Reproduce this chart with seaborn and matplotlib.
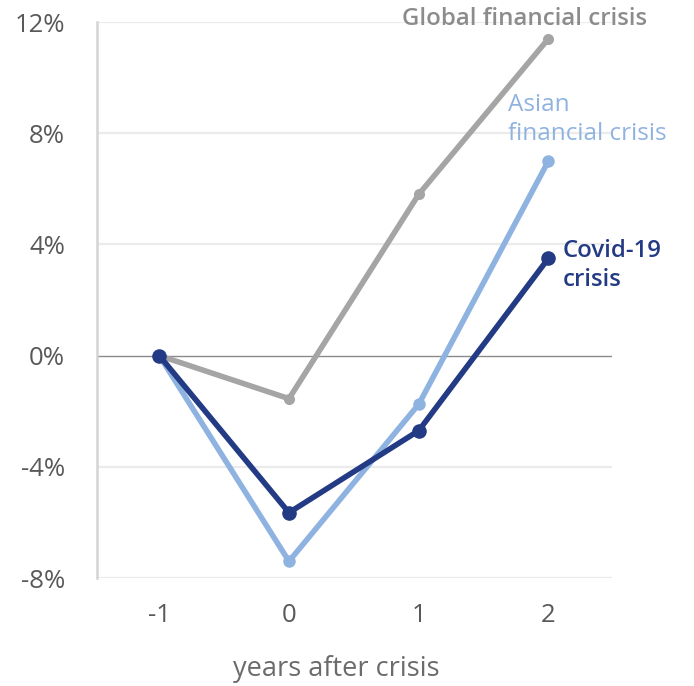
import matplotlib
matplotlib.use("Agg")
import matplotlib.pyplot as plt
import seaborn as sns
import pandas as pd
from matplotlib.ticker import FuncFormatter

years = [-1, 0, 1, 2]
global_fc = [0.0, -1.55, 5.8, 11.4]
asian_fc = [0.0, -7.4, -1.75, 7.0]
covid = [0.0, -5.65, -2.7, 3.5]
y_ticks = [-8, -4, 0, 4, 8, 12]

series_names = ["Global financial crisis", "Asian\nfinancial crisis", "Covid-19\ncrisis"]
colors = ["#a5a5a5", "#8fb3e0", "#233a84"]

df = pd.concat([
    pd.DataFrame({"year": years, "value": global_fc, "series": series_names[0]}),
    pd.DataFrame({"year": years, "value": asian_fc, "series": series_names[1]}),
    pd.DataFrame({"year": years, "value": covid, "series": series_names[2]}),
])

sns.set_theme(style="white")
plt.rcParams["font.family"] = ["Open Sans", "DejaVu Sans"]
plt.rcParams["axes.unicode_minus"] = False

fig = plt.figure(figsize=(6.94, 6.86), dpi=100)
ax = fig.add_axes([97/694, 1 - 578/686, (612-97)/694, (578-22)/686])

marker_sizes = [8, 9, 10.5]
for name, col, ms in zip(series_names, colors, marker_sizes):
    sub = df[df["series"] == name]
    sns.lineplot(data=sub, x="year", y="value", color=col, linewidth=4.0,
                 marker="o", markersize=ms, markeredgewidth=0, ax=ax,
                 legend=False, zorder=3)

ax.set_xlim(-1.48, 2.49)
ax.set_ylim(-8, 12)
ax.set_yticks(y_ticks)
ax.set_xticks(years)
ax.yaxis.set_major_formatter(FuncFormatter(lambda v, p: f"{int(v)}%"))
ax.xaxis.set_major_formatter(FuncFormatter(lambda v, p: f"{int(v)}"))
for yt in y_ticks:
    if yt == 0:
        ax.axhline(yt, color="#8a8a8a", linewidth=1.0, zorder=1)
    else:
        ax.axhline(yt, color="#ebebeb", linewidth=1.6, zorder=0)

for s in ["top", "right", "bottom"]:
    ax.spines[s].set_visible(False)
ax.spines["left"].set_color("#d4d4d4")
ax.spines["left"].set_linewidth(1.8)

ax.tick_params(axis="both", length=0, labelsize=18.5, labelcolor="#595959")
ax.tick_params(axis="y", pad=23)
ax.tick_params(axis="x", pad=18)
ax.set_xlabel("")
ax.set_ylabel("")
fig.text(336/694, 1 - 669/686, "years after crisis", ha="center", va="center",
         fontsize=19.5, color="#6b6b6b")

ax.text(0.87, 12.1, series_names[0], color="#8c8c8c", fontsize=17.3,
        fontweight="semibold", ha="left", va="center", clip_on=False)
ax.text(1.69, 8.5, series_names[1], color="#8fb3e0", fontsize=17.5,
        ha="left", va="center", linespacing=1.3)
ax.text(2.11, 3.24, series_names[2], color="#233a84", fontsize=17.3,
        fontweight="semibold", ha="left", va="center", linespacing=1.25)

fig.savefig("out.png", dpi=100)
